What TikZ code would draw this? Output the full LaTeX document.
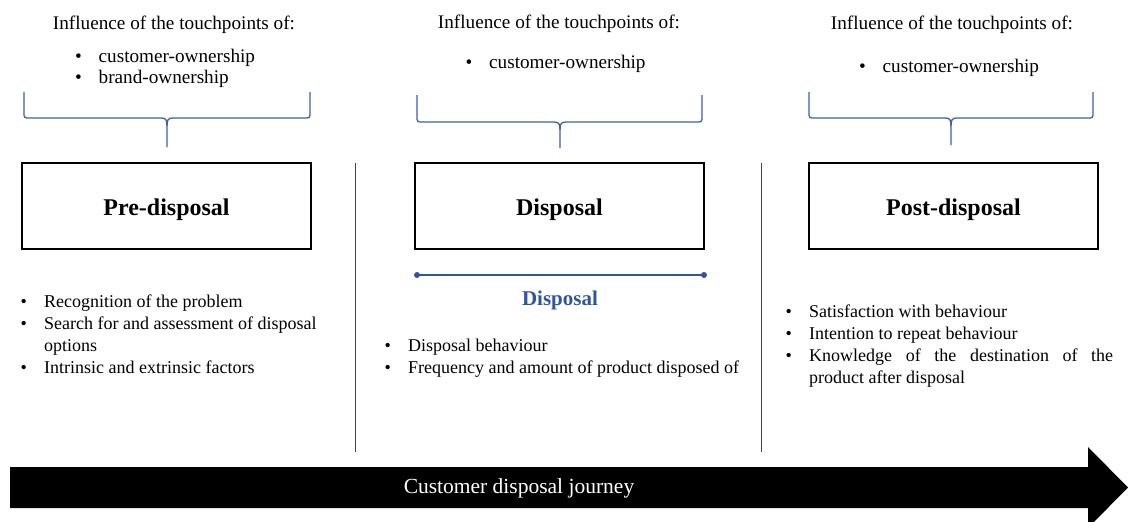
\documentclass[tikz,border=0pt]{standalone}
\usepackage{fontspec}
\setmainfont{Liberation Serif}
\definecolor{braceblue}{RGB}{62,96,166}
\definecolor{titleblue}{RGB}{47,85,160}
\definecolor{sepgray}{RGB}{70,70,70}
\newcommand{\bl}[1]{\makebox[23.5pt][l]{\textbullet}#1}
\newcommand{\ind}[1]{\hspace*{23.5pt}#1}
\newcommand{\mybrace}[6]{% x1 x2 cx ytop yh ytip
  \draw[bracestyle] (#1,#4) -- (#1,#5-6) .. controls (#1,#5) .. (#1+6,#5) -- (#3-6,#5)
    .. controls (#3-1,#5) and (#3,#5+2) .. (#3,#5+8) -- (#3,#6);
  \draw[bracestyle] (#2,#4) -- (#2,#5-6) .. controls (#2,#5) .. (#2-6,#5) -- (#3+6,#5)
    .. controls (#3+1,#5) and (#3,#5+2) .. (#3,#5+8);
}
\tikzset{
  bracestyle/.style={draw=braceblue, line width=1.3pt, line join=round},
  stagebox/.style={draw=black, line width=1.4pt, minimum width=289pt, minimum height=86pt, inner sep=0pt, text height=20pt, text depth=2pt, font=\fontsize{24}{26}\selectfont\bfseries},
  headtxt/.style={anchor=base, inner sep=0pt, font=\fontsize{19.2}{22}\selectfont},
  toptxt/.style={anchor=base west, inner sep=0pt, align=left, font=\fontsize{19.2}{21}\selectfont},
  listtxt/.style={anchor=base west, inner sep=0pt, align=left, font=\fontsize{18}{21.7}\selectfont},
  sepline/.style={draw=sepgray, line width=0.9pt},
}
\begin{document}
\begin{tikzpicture}[x=1pt, y=-1pt]
\useasboundingbox (0,0) rectangle (1128,522);
% headers
\node[headtxt] (h1) at (174,29) {Influence of the touchpoints of:};
\node[headtxt] (h2) at (559,28) {Influence of the touchpoints of:};
\node[headtxt] (h3) at (952,30) {Influence of the touchpoints of:};
\node[toptxt] (t1) at (75,83) {\bl{customer-ownership}\\\bl{brand-ownership}};
\node[toptxt] (t2) at (465.5,68) {\bl{customer-ownership}};
\node[toptxt] (t3) at (859,72) {\bl{customer-ownership}};
% braces
\mybrace{24}{310}{167}{92}{118}{147}
\mybrace{417}{702}{560}{95}{122}{148}
\mybrace{809}{1093}{951}{92}{118}{145}
% separators
\coordinate (s1t) at (355,163); \coordinate (s1b) at (355,452);
\coordinate (s2t) at (761,163); \coordinate (s2b) at (761,452);
\draw[sepline] (s1t) -- (s1b);
\draw[sepline] (s2t) -- (s2b);
% boxes
\node[stagebox] (pre) at (166.5,206) {Pre-disposal};
\node[stagebox] (dis) at (559.5,206) {Disposal};
\node[stagebox] (post) at (953.5,206) {Post-disposal};
% blue timeline
\coordinate (la) at (417,275); \coordinate (lb) at (704,275);
\draw[draw=titleblue, line width=1.1pt] (la) -- (lb);
\fill[titleblue] (la) circle (3pt) (lb) circle (3pt);
\node[anchor=base, inner sep=0pt, text=titleblue, font=\fontsize{21}{24}\selectfont\bfseries] (dlab) at (560,305) {Disposal};
% lower lists
\node[listtxt] (l1) at (20.5,373) {\bl{Recognition of the problem}\\\bl{Search for and assessment of disposal}\\\ind{options}\\\bl{Intrinsic and extrinsic factors}};
\node[listtxt] (l2) at (384.5,373) {\bl{Disposal behaviour}\\\bl{Frequency and amount of product disposed of}};
\node[listtxt] (l3) at (785.5,383) {\bl{Satisfaction with behaviour}\\\bl{Intention to repeat behaviour}\\\bl{\makebox[304pt][s]{Knowledge of the destination of the}}\\\ind{product after disposal}};
% journey arrow
\begin{scope}
\clip (0,0) rectangle (1128,522);
\fill[black] (10,467) -- (1088,467) -- (1088,447) -- (1128,487.5) -- (1088,528) -- (1088,508) -- (10,508) -- cycle;
\end{scope}
\node[anchor=center, inner sep=0pt, text=white, font=\fontsize{21.5}{24}\selectfont] (jl) at (519,488) {Customer disposal journey};
\end{tikzpicture}
\end{document}
